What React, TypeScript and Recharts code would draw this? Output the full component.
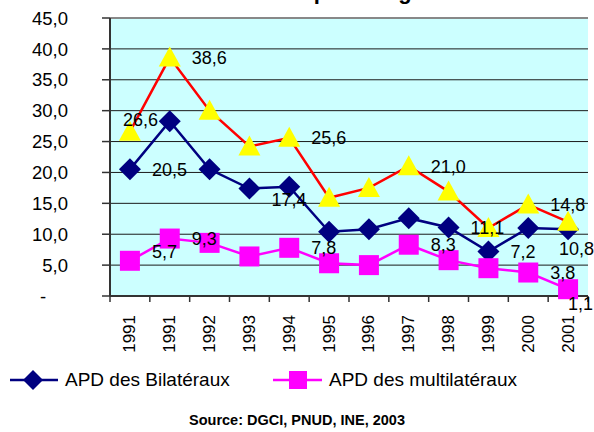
import React from "react";
import {CartesianGrid, LabelList, Legend, Line, LineChart, ReferenceLine, XAxis, YAxis} from "recharts";

const years = ["1991", "1991", "1992", "1993", "1994", "1995", "1996", "1997", "1998", "1999", "2000", "2001"];
const bilateraux = [20.5, 28.3, 20.5, 17.4, 17.7, 10.4, 10.8, 12.6, 11.1, 7.2, 11.0, 10.8];
const multilateraux = [5.7, 9.3, 8.6, 6.4, 7.8, 5.3, 5.0, 8.3, 5.8, 4.5, 3.8, 1.1];
const total = [26.6, 38.6, 30.0, 24.2, 25.6, 15.9, 17.5, 21.0, 16.9, 11.0, 14.8, 12.0];
const yTicks = [0, 5, 10, 15, 20, 25, 30, 35, 40, 45];

// which points carry a value label
const labelledBilat = [0, 3, 8, 9, 11];
const labelledMulti = [0, 1, 4, 7, 10, 11];
const labelledTotal = [0, 1, 4, 7, 10];

// manual label nudges (Excel labels moved by hand)
const labelNudge: Record<string, [number, number]> = {
    "total-0": [-29, -12],
    "bilat-3": [0, 11],
    "bilat-11": [-31, 19],
    "multi-0": [0, -9],
    "multi-11": [-22, 14],
};

const rows = years.map((year, i) => ({
    slot: i,
    year,
    bilat: bilateraux[i],
    multi: multilateraux[i],
    total: total[i],
}));

const FONT = "Arial, 'Liberation Sans', sans-serif";
const NAVY = "#000080";
const MAGENTA = "#FF00FF";
const RED = "#FF0000";
const YELLOW = "#FFFF00";
const AXIS_LEFT = 110;
const HALF_BAND = (594 - AXIS_LEFT - 6) / years.length / 2;

const fmt = (v: number) => v.toFixed(1).replace(".", ",");

const Diamond = (p: any) => {
    const {cx, cy, index} = p;
    if (cx == null || cy == null) return <g key={index} />;
    return <polygon key={index} points={`${cx},${cy - 11} ${cx + 11},${cy} ${cx},${cy + 11} ${cx - 11},${cy}`} fill={NAVY} />;
};

const Square = (p: any) => {
    const {cx, cy, index} = p;
    if (cx == null || cy == null) return <g key={index} />;
    return <rect key={index} x={cx - 10} y={cy - 10} width={20} height={20} fill={MAGENTA} />;
};

const Triangle = (p: any) => {
    const {cx, cy, index} = p;
    if (cx == null || cy == null) return <g key={index} />;
    return <polygon key={index} points={`${cx},${cy - 11} ${cx + 11},${cy + 9} ${cx - 11},${cy + 9}`} fill={YELLOW} />;
};

const makeLabel = (series: string, shown: number[]) => (p: any) => {
    const {x, y, value, index} = p;
    if (!shown.includes(index)) return null;
    const [nx, ny] = labelNudge[`${series}-${index}`] || [0, 0];
    return (
        <text key={`${series}-${index}`} x={x + 22 + nx} y={y + ny} dy="0.36em" textAnchor="start"
              fontSize={18} fontFamily={FONT} fill="#000">
            {fmt(Number(value))}
        </text>
    );
};

// tick labels right-aligned 42px left of the axis line
const YTick = (p: any) => {
    const {y, payload} = p;
    const lx = AXIS_LEFT - 42;
    if (payload.value === 0) {
        return <text x={lx - 25} y={y} dy="0.36em" textAnchor="middle" fontSize={18.5} fontFamily={FONT} fill="#000">-</text>;
    }
    return <text x={lx} y={y} dy="0.36em" textAnchor="end" fontSize={18.5} fontFamily={FONT} fill="#000">{fmt(payload.value)}</text>;
};

const XTick = (p: any) => {
    const {x, y, payload, index} = p;
    const last = index === years.length - 1;
    return (
        <g>
            <line x1={x - HALF_BAND} y1={y} x2={x - HALF_BAND} y2={y + 6} stroke="#333" strokeWidth={1.5} />
            {last && <line x1={x + HALF_BAND} y1={y} x2={x + HALF_BAND} y2={y + 6} stroke="#333" strokeWidth={1.5} />}
            <text transform={`translate(${x},${y + 19}) rotate(-90)`} textAnchor="end" dominantBaseline="central"
                  fontSize={17} fontFamily={FONT} fill="#000">
                {years[payload.value]}
            </text>
        </g>
    );
};

const LegendBox = () => (
    <div style={{position: "relative", width: 594, height: 68, fontFamily: FONT, color: "#000"}}>
        <svg style={{position: "absolute", left: 10, top: 5}} width={48} height={22}>
            <line x1={0} y1={11} x2={48} y2={11} stroke={NAVY} strokeWidth={2.5} />
            <polygon points="23,1 33,11 23,21 13,11" fill={NAVY} />
        </svg>
        <span style={{position: "absolute", left: 65, top: 5, fontSize: 19, lineHeight: "22px", whiteSpace: "nowrap"}}>
            APD des Bilatéraux
        </span>
        <svg style={{position: "absolute", left: 273, top: 5}} width={49} height={22}>
            <line x1={0} y1={11} x2={49} y2={11} stroke={MAGENTA} strokeWidth={2.5} />
            <rect x={16} y={2} width={18} height={18} fill={MAGENTA} />
        </svg>
        <span style={{position: "absolute", left: 329, top: 5, fontSize: 19, lineHeight: "22px", whiteSpace: "nowrap"}}>
            APD des multilatéraux
        </span>
        <div style={{position: "absolute", left: 0, top: 47, width: 594, textAlign: "center", fontSize: 14.5,
            fontWeight: "bold", lineHeight: "18px"}}>
            Source: DGCI, PNUD, INE, 2003
        </div>
    </div>
);

export default function App() {
    return (
        <div style={{position: "relative", width: 594, height: 432, background: "#fff"}}>
            <style>{"body{margin:0}"}</style>
            <svg style={{position: "absolute", left: 0, top: 0}} width={594} height={20}>
                <text x={452} y={-1} textAnchor="end" fontSize={22} fontWeight="bold" fontFamily={FONT} fill="#000">
                    Evolution de l'APD par catégorie
                </text>
            </svg>
            <LineChart width={594} height={432} data={rows} margin={{top: 18, right: 6, bottom: 76, left: 0}}>
                <CartesianGrid vertical={false} stroke="#1a1a1a" strokeWidth={1} fill="#CCFFFF" fillOpacity={1} />
                <ReferenceLine y={45} stroke="#888" strokeWidth={2} />
                <XAxis dataKey="slot" type="category" height={60} tickLine={false} tickSize={0} tickMargin={0}
                       padding={{left: HALF_BAND, right: HALF_BAND}}
                       axisLine={{stroke: "#333", strokeWidth: 2}} tick={<XTick />} interval={0} />
                <YAxis domain={[0, 45]} ticks={yTicks} width={AXIS_LEFT} tickSize={8} tickMargin={34} interval={0}
                       axisLine={{stroke: "#333", strokeWidth: 2}} tickLine={{stroke: "#333", strokeWidth: 1.5}}
                       tick={<YTick />} />
                <YAxis yAxisId="border" orientation="right" domain={[0, 45]} width={0} tick={false} tickLine={false}
                       axisLine={{stroke: "#888", strokeWidth: 2}} />
                <Line dataKey="bilat" name="APD des Bilatéraux" stroke={NAVY} strokeWidth={2.5} dot={Diamond}
                      activeDot={false} isAnimationActive={false} />
                <Line dataKey="multi" name="APD des multilatéraux" stroke={MAGENTA} strokeWidth={2.5} dot={Square}
                      activeDot={false} isAnimationActive={false} />
                <Line dataKey="total" name="Total" legendType="none" stroke={RED} strokeWidth={2.5} dot={Triangle}
                      activeDot={false} isAnimationActive={false} />
                <Line dataKey="bilat" stroke="none" dot={false} activeDot={false} legendType="none" isAnimationActive={false}>
                    <LabelList dataKey="bilat" content={makeLabel("bilat", labelledBilat)} />
                </Line>
                <Line dataKey="multi" stroke="none" dot={false} activeDot={false} legendType="none" isAnimationActive={false}>
                    <LabelList dataKey="multi" content={makeLabel("multi", labelledMulti)} />
                </Line>
                <Line dataKey="total" stroke="none" dot={false} activeDot={false} legendType="none" isAnimationActive={false}>
                    <LabelList dataKey="total" content={makeLabel("total", labelledTotal)} />
                </Line>
                <Legend verticalAlign="middle" layout="horizontal" content={<LegendBox />}
                        wrapperStyle={{top: 364, left: 0, width: 594, height: 68, margin: 0, padding: 0}} />
            </LineChart>
        </div>
    );
}
